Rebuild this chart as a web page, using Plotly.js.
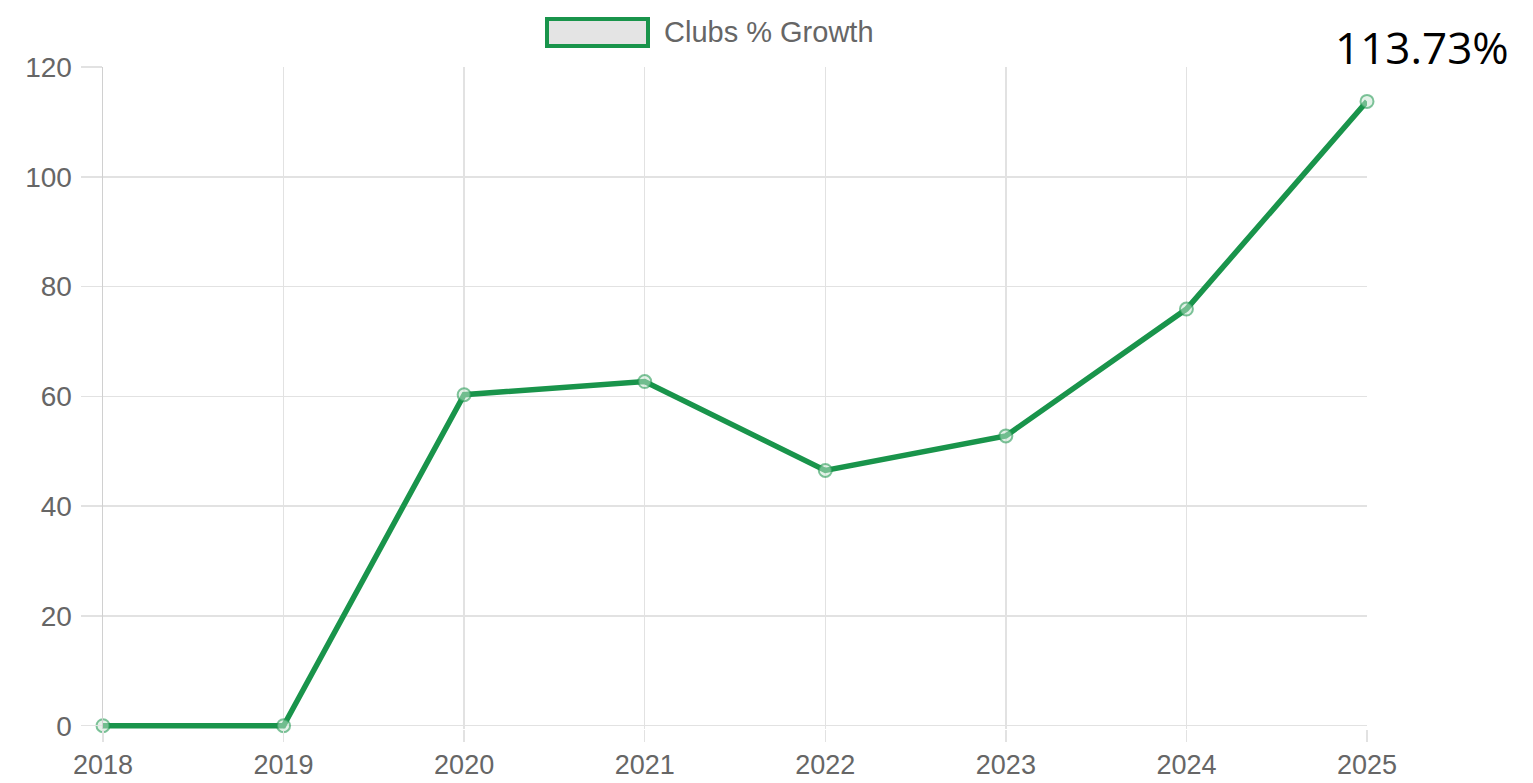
<!DOCTYPE html>
<html>
<head>
<meta charset="utf-8">
<script src="https://cdn.plot.ly/plotly-3.0.1.min.js"></script>
<style>
html,body{margin:0;padding:0;background:#fff;}
#chart{width:1533px;height:783px;}
</style>
</head>
<body>
<div id="chart"></div>
<script>
const years = [2018, 2019, 2020, 2021, 2022, 2023, 2024, 2025];
const growth = [0, 0, 60.3, 62.7, 46.5, 52.8, 75.9, 113.73];
const seriesName = "Clubs % Growth";
const yTicks = [0, 20, 40, 60, 80, 100, 120];
const lastLabel = "113.73%";

const green = "#19944b";
const grid = "#e2e2e2";
const yTickFont = {family: "Liberation Sans, Arial, sans-serif", size: 28, color: "#666666"};
const xTickFont = {family: "Liberation Sans, Arial, sans-serif", size: 27, color: "#666666"};

// plot box in pixels (reference): x 103..1367, y(0)=726, y(120)=67
const pxPerUnit = (726 - 67) / 120;
const yPad = 0.6; // small pad below zero so the zero-level line is not clipped

const trace = {
  x: years, y: growth, type: "scatter", mode: "lines+markers",
  name: seriesName, showlegend: false,
  line: {color: green, width: 5.5},
  marker: {symbol: "circle", size: 13, color: "rgba(200,230,210,0.5)", line: {color: "rgba(25,148,75,0.55)", width: 2}},
  cliponaxis: false, hoverinfo: "x+y"
};

const bottomMargin = 783 - 726 - yPad * pxPerUnit;
const plotH = 783 - 67 - bottomMargin;
function py(pixelY) { return (783 - bottomMargin - pixelY) / plotH; }

const layout = {
  width: 1533, height: 783,
  margin: {l: 103, r: 166, t: 67, b: bottomMargin, pad: 0},
  paper_bgcolor: "#ffffff", plot_bgcolor: "#ffffff",
  showlegend: false,
  xaxis: {
    range: [years[0], years[years.length - 1]],
    tickvals: years, ticktext: years.map(String),
    showgrid: true, gridcolor: grid, gridwidth: 1.5,
    zeroline: false, showline: false,
    ticks: "outside", ticklen: 12, tickcolor: grid, tickwidth: 1.5,
    tickfont: xTickFont
  },
  yaxis: {
    range: [-yPad, 120], tickvals: yTicks,
    showgrid: true, gridcolor: grid, gridwidth: 1.5,
    zeroline: false, showline: true, linecolor: "#d0d0d0", linewidth: 1.5,
    ticks: "outside", ticklen: 21, tickcolor: grid, tickwidth: 1.5,
    ticklabelstandoff: 3,
    tickfont: yTickFont
  },
  shapes: [
    {type: "rect", xref: "paper", yref: "paper",
     x0: (547 - 103) / 1264, x1: (648 - 103) / 1264,
     y0: py(46), y1: py(19),
     fillcolor: "#e4e4e4", line: {color: green, width: 4}}
  ],
  annotations: [
    {xref: "paper", yref: "paper", x: (662 - 103) / 1264, y: py(32),
     xanchor: "left", yanchor: "middle", showarrow: false,
     text: seriesName, font: {family: "Liberation Sans, Arial, sans-serif", size: 29, color: "#666666"}},
    {xref: "x", yref: "paper", x: years[years.length - 1], y: py(47),
     xanchor: "center", yanchor: "middle", xshift: 55, showarrow: false,
     text: lastLabel, font: {family: "Open Sans, sans-serif", size: 44, color: "#000000"}}
  ]
};

Plotly.newPlot("chart", [trace], layout, {displayModeBar: false, staticPlot: true});
</script>
</body>
</html>
